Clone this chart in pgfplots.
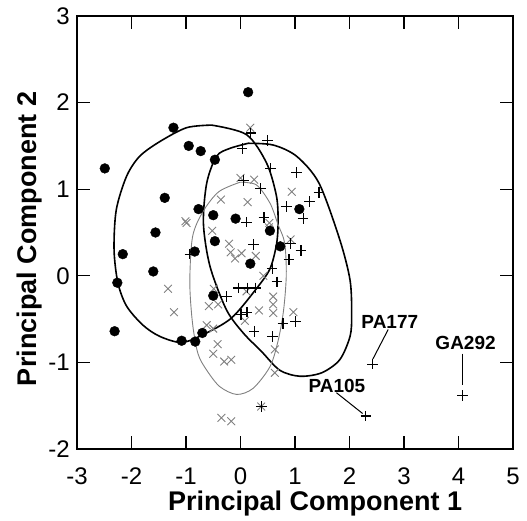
\documentclass[border=0pt]{standalone}
\usepackage{fontspec}
\setmainfont{Liberation Sans}
\usepackage{pgfplots}
\pgfplotsset{compat=1.18}
\begin{document}
\begin{tikzpicture}
\begin{axis}[
  at={(0,0)}, anchor=south west,
  scale only axis, width=436pt, height=433pt,
  xmin=-3, xmax=5, ymin=-2, ymax=3,
  xtick={-3,...,5}, ytick={-2,...,3},
  tick align=inside, major tick length=13pt,
  every tick/.style={black, line width=1.1pt},
  axis line style={line width=1.2pt},
  /pgf/number format/assume math mode=true,
  tick label style={font=\fontsize{24}{26}\selectfont},
  xticklabel style={inner sep=0pt, anchor=north, yshift=-19pt},
  yticklabel style={inner sep=0pt, anchor=east, xshift=-7pt},
  xlabel={Principal Component 1},
  ylabel={Principal Component 2},
  label style={font=\fontsize{27}{30}\selectfont\bfseries, inner sep=0pt},
  xlabel style={at={(axis description cs:0.546,-0.127)}, anchor=center},
  ylabel style={at={(axis description cs:-0.110,0.485)}, anchor=center},
]
% ellipses
\addplot[smooth, black, line width=1.6pt] coordinates {
 (-0.53,1.74) (0.11,1.63) (0.48,1.30) (0.66,0.92) (0.69,0.62) (0.66,0.36)
 (0.54,0.08) (0.29,-0.15) (-0.17,-0.49) (-0.69,-0.68) (-1.08,-0.77)
 (-1.48,-0.70) (-1.79,-0.57) (-2.09,-0.35) (-2.25,-0.08) (-2.32,0.30)
 (-2.28,0.76) (-2.09,1.15) (-1.85,1.38) (-1.48,1.55) (-0.99,1.71) (-0.53,1.74)};
\addplot[smooth, black, line width=1.6pt] coordinates {
 (0.14,1.53) (0.60,1.51) (1.03,1.38) (1.44,1.07) (1.82,0.42) (2.01,-0.05)
 (2.04,-0.45) (2.01,-0.70) (1.82,-0.97) (1.49,-1.12) (1.09,-1.16) (0.72,-1.09)
 (0.38,-0.87) (0.05,-0.66) (-0.26,-0.39) (-0.56,0.11) (-0.68,0.60)
 (-0.62,1.07) (-0.44,1.38) (-0.20,1.47) (0.14,1.53)};
\addplot[smooth, black!50, line width=0.9pt] coordinates {
 (-0.01,1.08) (0.29,1.05) (0.54,0.84) (0.69,0.59) (0.81,0.38) (0.84,0.01)
 (0.79,-0.40) (0.69,-0.75) (0.54,-1.05) (0.23,-1.30) (-0.07,-1.37)
 (-0.38,-1.28) (-0.62,-1.09) (-0.78,-0.90) (-0.88,-0.55) (-0.93,-0.08)
 (-0.88,0.45) (-0.69,0.74) (-0.40,0.97) (-0.01,1.08)};
% grey crosses
\addplot[only marks, mark=x, mark size=5.5pt, black!50, line width=0.9pt] coordinates {
 (0.18,1.71) (0.00,1.13) (0.25,1.11) (-0.36,0.88) (0.13,0.85) (-0.99,0.61)
 (-1.01,0.63) (0.53,0.61) (-0.52,0.52) (0.94,0.97) (0.92,0.42) (-0.21,0.37)
 (-0.18,0.27) (-0.10,0.20) (0.02,0.26) (0.28,0.23) (0.42,0.00) (-1.33,-0.15)
 (-1.22,-0.42) (-0.58,-0.35) (-0.41,-0.33) (-0.49,-0.15) (0.11,-0.18)
 (0.34,-0.40) (0.08,-0.52) (-0.62,-0.57) (-0.50,-0.61) (0.60,-0.24)
 (0.60,-0.33) (0.60,-0.43) (0.97,-0.42) (-0.42,-0.79) (-0.50,-0.90)
 (-0.30,-0.99) (-0.17,-0.97) (0.63,-0.85) (0.63,-1.12) (-0.35,-1.64)
 (-0.17,-1.68) (0.38,-1.51) (0.52,0.56)};
% black pluses
\addplot[only marks, mark=+, mark size=5.3pt, black, line width=1.2pt] coordinates {
 (0.19,1.65) (0.50,1.56) (0.03,1.47) (0.55,1.24) (1.03,1.19) (0.05,1.10)
 (0.37,1.01) (1.44,0.96) (1.27,0.86) (0.84,0.80) (1.15,0.66) (0.11,0.62)
 (0.43,0.67) (0.24,0.36) (0.92,0.37) (1.11,0.29) (0.89,0.19) (-0.93,0.25)
 (0.58,0.08) (0.67,-0.07) (-0.04,-0.14) (0.13,-0.14) (0.27,-0.14)
 (-0.26,-0.24) (0.12,-0.42) (0.01,-0.45) (0.25,-0.64) (0.59,-0.70)
 (0.78,-0.55) (1.01,-0.53) (0.38,-1.51) (2.42,-1.02) (2.30,-1.62) (4.07,-1.38)};
% black dots
\addplot[only marks, mark=*, mark size=4.9pt, black] coordinates {
 (-2.49,1.24) (-1.23,1.71) (-0.95,1.50) (-0.73,1.44) (-0.47,1.34) (0.14,2.12)
 (-1.39,0.90) (-0.77,0.77) (-0.50,0.70) (-0.09,0.66) (0.54,0.52) (-1.56,0.50)
 (-0.47,0.40) (-0.84,0.28) (-2.16,0.25) (0.18,0.14) (-1.60,0.05) (-2.26,-0.08)
 (-0.50,-0.23) (-2.31,-0.64) (-0.70,-0.66) (-1.08,-0.75) (-0.83,-0.76)
 (1.08,0.77) (0.73,0.34)};
% labels
\draw[line width=1pt] (axis cs:2.71,-0.62) -- (axis cs:2.43,-0.96);
\draw[line width=1pt] (axis cs:1.76,-1.35) -- (axis cs:2.24,-1.59);
\draw[line width=1pt] (axis cs:4.07,-0.90) -- (axis cs:4.07,-1.26);
\node[font=\fontsize{19}{21}\selectfont\bfseries] at (axis cs:2.74,-0.53) {PA177};
\node[font=\fontsize{19}{21}\selectfont\bfseries] at (axis cs:1.77,-1.27) {PA105};
\node[font=\fontsize{19}{21}\selectfont\bfseries] at (axis cs:4.13,-0.78) {GA292};
\end{axis}
\pgfresetboundingbox
\path[use as bounding box] (-77pt,-72pt) rectangle (450pt,449pt);
\end{tikzpicture}
\end{document}
